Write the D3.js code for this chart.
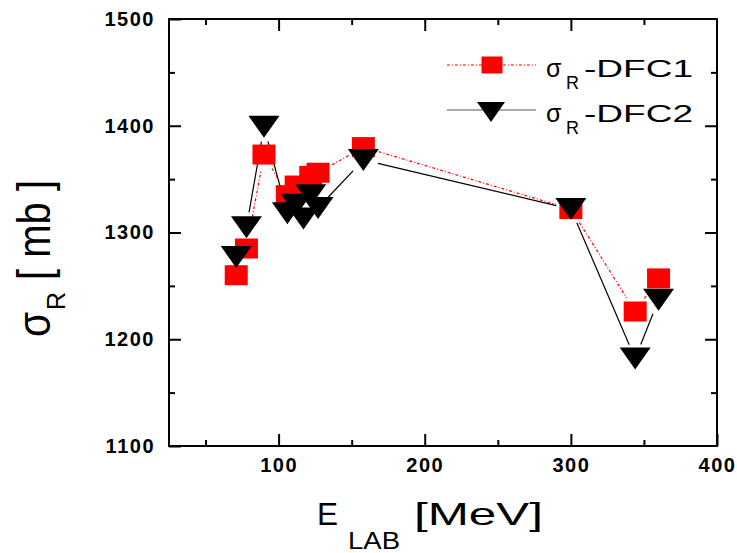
<!DOCTYPE html>
<html>
  <head>
    <meta charset="utf-8">
    <title>sigma_R DFC1 / DFC2</title>
    <script src="https://cdn.jsdelivr.net/npm/d3@7"></script>
    <style type="text/css">
    body { margin: 0; background: #fff; }
    text { font-family: "Liberation Sans", Arial, sans-serif; }
    .tick text { font-weight: bold; font-size: 20px; letter-spacing: 1.5px; fill: #000; }
    .tick line { stroke: #000; stroke-width: 2px; }
    </style>
  </head>
  <body>
  <script type="text/javascript">

    // energies (MeV) and cross sections (mb)
    var energyDFC1 = [71, 78, 90, 106, 112, 122, 127, 158, 300, 344, 360];
    var sigmaDFC1  = [1260, 1285, 1373, 1335, 1344, 1353, 1356, 1380, 1322, 1226, 1257];

    var energyDFC2 = [71, 78, 90, 106, 112, 117, 122, 127, 158, 300, 344, 360];
    var sigmaDFC2  = [1277, 1305, 1399, 1318, 1326, 1313, 1335, 1323, 1368, 1322, 1182, 1237];

    var xMajor = [100, 200, 300, 400];
    var xMinor = [50, 150, 250, 350];
    var yMajor = [1100, 1200, 1300, 1400, 1500];
    var yMinor = [1150, 1250, 1350, 1450];

    var W = 737, H = 553;
    var L = 169, R = 717, T = 19, B = 446;

    var svg = d3.select("body").append("svg")
      .attr("width", W).attr("height", H);

    var x = d3.scaleLinear().domain([25, 400]).range([L, R]);
    var y = d3.scaleLinear().domain([1100, 1500]).range([B, T]);
    var fmt = d3.format("d");

    function pts(xs, ys) {
      return xs.map(function(v, i){ return [x(v), y(ys[i])]; });
    }
    var p1 = pts(energyDFC1, sigmaDFC1);
    var p2 = pts(energyDFC2, sigmaDFC2);

    // axes: ticks point inward on all four sides
    function noDomain(g){ g.select(".domain").remove(); }

    svg.append("g").attr("transform", "translate(0," + B + ")")
      .call(d3.axisBottom(x).tickValues(xMajor).tickSize(-12).tickPadding(12).tickFormat(fmt))
      .call(noDomain);
    svg.append("g").attr("transform", "translate(0," + B + ")")
      .call(d3.axisBottom(x).tickValues(xMinor).tickSize(-6).tickFormat(""))
      .call(noDomain);
    svg.append("g").attr("transform", "translate(0," + T + ")")
      .call(d3.axisTop(x).tickValues(xMajor.slice(0, 3)).tickSize(-12).tickFormat(""))
      .call(noDomain);
    svg.append("g").attr("transform", "translate(0," + T + ")")
      .call(d3.axisTop(x).tickValues(xMinor).tickSize(-6).tickFormat(""))
      .call(noDomain);

    svg.append("g").attr("transform", "translate(" + L + ",0)")
      .call(d3.axisLeft(y).tickValues(yMajor).tickSize(-12).tickPadding(14).tickFormat(fmt))
      .call(noDomain);
    svg.append("g").attr("transform", "translate(" + L + ",0)")
      .call(d3.axisLeft(y).tickValues(yMinor).tickSize(-6).tickFormat(""))
      .call(noDomain);
    svg.append("g").attr("transform", "translate(" + R + ",0)")
      .call(d3.axisRight(y).tickValues(yMajor.slice(1, 4)).tickSize(-12).tickFormat(""))
      .call(noDomain);
    svg.append("g").attr("transform", "translate(" + R + ",0)")
      .call(d3.axisRight(y).tickValues(yMinor).tickSize(-6).tickFormat(""))
      .call(noDomain);

    svg.append("rect")
      .attr("x", L).attr("y", T).attr("width", R - L).attr("height", B - T)
      .attr("fill", "none").attr("stroke", "#000").attr("stroke-width", 2);

    // connecting lines with a gap around each symbol
    function gapSegments(p, gap) {
      var segs = [];
      for (var i = 0; i < p.length - 1; i++) {
        var a = p[i], b = p[i + 1];
        var dx = b[0] - a[0], dy = b[1] - a[1];
        var len = Math.sqrt(dx * dx + dy * dy);
        if (len <= 2 * gap) continue;
        var ux = dx / len, uy = dy / len;
        segs.push([a[0] + ux * gap, a[1] + uy * gap, b[0] - ux * gap, b[1] - uy * gap]);
      }
      return segs;
    }

    svg.append("g").selectAll("line")
      .data(gapSegments(p1, 16)).enter().append("line")
      .attr("x1", function(d){ return d[0]; }).attr("y1", function(d){ return d[1]; })
      .attr("x2", function(d){ return d[2]; }).attr("y2", function(d){ return d[3]; })
      .attr("stroke", "#ff0000").attr("stroke-width", 1.2)
      .attr("stroke-dasharray", "3,2,1,2");

    svg.append("g").selectAll("line")
      .data(gapSegments(p2, 15)).enter().append("line")
      .attr("x1", function(d){ return d[0]; }).attr("y1", function(d){ return d[1]; })
      .attr("x2", function(d){ return d[2]; }).attr("y2", function(d){ return d[3]; })
      .attr("stroke", "#000").attr("stroke-width", 1.2);

    // symbols
    var sqW = 23, sqH = 20;
    svg.append("g").selectAll("rect")
      .data(p1).enter().append("rect")
      .attr("x", function(d){ return d[0] - sqW / 2; })
      .attr("y", function(d){ return d[1] - sqH / 2; })
      .attr("width", sqW).attr("height", sqH)
      .attr("fill", "#ff0000");

    function triPath(w, h) {
      return "M" + (-w / 2) + "," + (-h / 2) + "L" + (w / 2) + "," + (-h / 2) + "L0," + (h / 2) + "Z";
    }
    svg.append("g").selectAll("path")
      .data(p2).enter().append("path")
      .attr("transform", function(d){ return "translate(" + d[0] + "," + d[1] + ")"; })
      .attr("d", triPath(31, 22))
      .attr("fill", "#000");

    // legend
    var lg = svg.append("g");
    lg.append("line").attr("x1", 447).attr("x2", 536).attr("y1", 65).attr("y2", 65)
      .attr("stroke", "#ff0000").attr("stroke-width", 1.2).attr("stroke-dasharray", "3,2,1,2");
    lg.append("rect").attr("x", 492 - 10.5).attr("y", 65 - 8.5).attr("width", 21).attr("height", 17)
      .attr("fill", "#ff0000");
    lg.append("line").attr("x1", 447).attr("x2", 536).attr("y1", 110).attr("y2", 110)
      .attr("stroke", "#555").attr("stroke-width", 1.2);
    lg.append("path").attr("transform", "translate(491,112)").attr("d", triPath(28, 20))
      .attr("fill", "#000");

    [["-DFC1", 76.7], ["-DFC2", 121.7]].forEach(function(e){
      lg.append("text").attr("x", 546).attr("y", e[1]).style("font-size", "25px").text("σ");
      lg.append("text").attr("x", 566).attr("y", e[1] + 12.6).style("font-size", "18px").text("R");
      lg.append("text").attr("x", 584).attr("y", e[1]).style("font-size", "23px")
        .attr("textLength", 109).attr("lengthAdjust", "spacingAndGlyphs").text(e[0]);
    });

    // axis titles
    svg.append("text").attr("x", 317).attr("y", 525).style("font-size", "32px")
      .attr("textLength", 21).attr("lengthAdjust", "spacingAndGlyphs").text("E");
    svg.append("text").attr("x", 348).attr("y", 549).style("font-size", "24px")
      .attr("textLength", 52).attr("lengthAdjust", "spacingAndGlyphs").text("LAB");
    svg.append("text").attr("x", 414).attr("y", 525).style("font-size", "32px")
      .attr("textLength", 129).attr("lengthAdjust", "spacingAndGlyphs").text("[MeV]");

    var yt = svg.append("g").attr("transform", "translate(50,337) rotate(-90)");
    yt.append("text").attr("x", 0).attr("y", 0).style("font-size", "46px")
      .attr("textLength", 25).attr("lengthAdjust", "spacingAndGlyphs").text("σ");
    yt.append("text").attr("x", 27).attr("y", 15).style("font-size", "25px").text("R");
    yt.append("text").attr("x", 57).attr("y", 0).style("font-size", "46px")
      .attr("textLength", 100).attr("lengthAdjust", "spacingAndGlyphs").text("[ mb ]");

  </script>
  </body>
</html>
